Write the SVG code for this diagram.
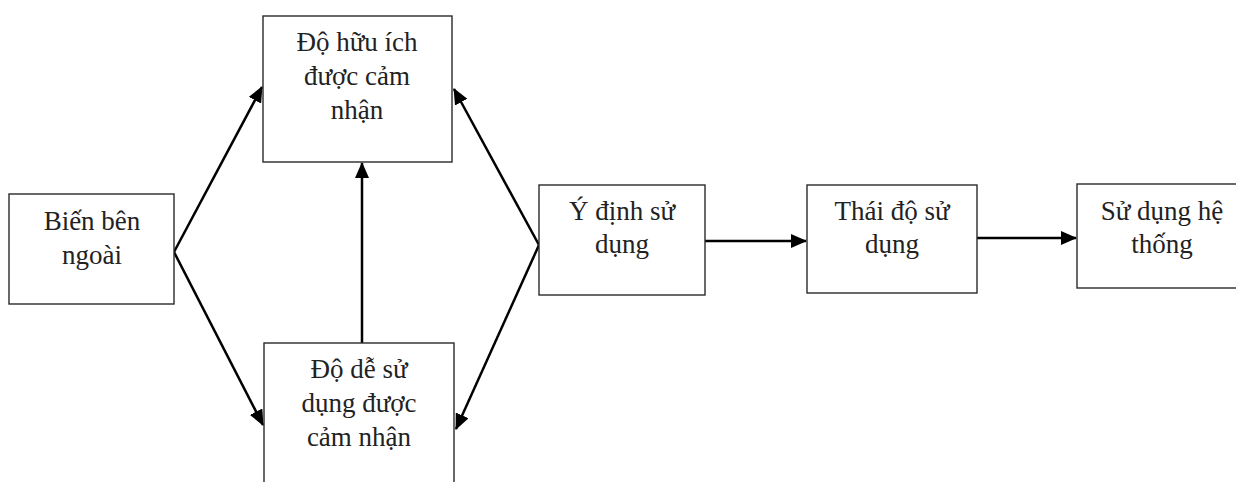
<svg xmlns="http://www.w3.org/2000/svg" width="1236" height="482" viewBox="0 0 1236 482">
<defs>
<style>
.box{fill:#fff;stroke:#2a2a2a;stroke-width:1.4}
.t{font-size:27px;fill:#222;text-anchor:middle}
.c{stroke:#000;stroke-width:2.5;fill:none;marker-end:url(#ah)}
</style>
<marker id="ah" markerUnits="userSpaceOnUse" markerWidth="16" markerHeight="14" refX="15" refY="7" orient="auto">
<path d="M0,0 L16,7 L0,14 z" fill="#000"/>
</marker>
</defs>
<rect width="1236" height="482" fill="#fff"/>
<g id="connectors">
<line class="c" x1="174" y1="252" x2="262" y2="87"/>
<line class="c" x1="174" y1="252" x2="263" y2="425"/>
<line class="c" x1="362" y1="343" x2="362" y2="163"/>
<line class="c" x1="539" y1="245" x2="454" y2="89"/>
<line class="c" x1="539" y1="245" x2="456" y2="429"/>
<line class="c" x1="705" y1="241" x2="806" y2="241"/>
<line class="c" x1="977" y1="238" x2="1076" y2="238"/>
</g>
<g font-family="'Liberation Serif', 'DejaVu Serif', serif">
<g id="bien-ben-ngoai">
<rect class="box" x="9" y="194" width="165" height="110"/>
<text class="t" x="92" y="230">Biến bên</text>
<text class="t" x="92" y="264">ngoài</text>
</g>
<g id="do-huu-ich">
<rect class="box" x="263" y="16" width="189" height="146"/>
<text class="t" x="357" y="51">Độ hữu ích</text>
<text class="t" x="357" y="85">được cảm</text>
<text class="t" x="357" y="119">nhận</text>
</g>
<g id="do-de-su-dung">
<rect class="box" x="264" y="343" width="190" height="160"/>
<text class="t" x="359" y="378">Độ dễ sử</text>
<text class="t" x="359" y="412">dụng được</text>
<text class="t" x="359" y="446">cảm nhận</text>
</g>
<g id="y-dinh-su-dung">
<rect class="box" x="539" y="185" width="166" height="110"/>
<text class="t" x="622" y="220">Ý định sử</text>
<text class="t" x="622" y="253">dụng</text>
</g>
<g id="thai-do-su-dung">
<rect class="box" x="807" y="185" width="170" height="108"/>
<text class="t" x="892" y="220">Thái độ sử</text>
<text class="t" x="892" y="253">dụng</text>
</g>
<g id="su-dung-he-thong">
<rect class="box" x="1077" y="184" width="170" height="104"/>
<text class="t" x="1162" y="220">Sử dụng hệ</text>
<text class="t" x="1162" y="253">thống</text>
</g>
</g>
</svg>
